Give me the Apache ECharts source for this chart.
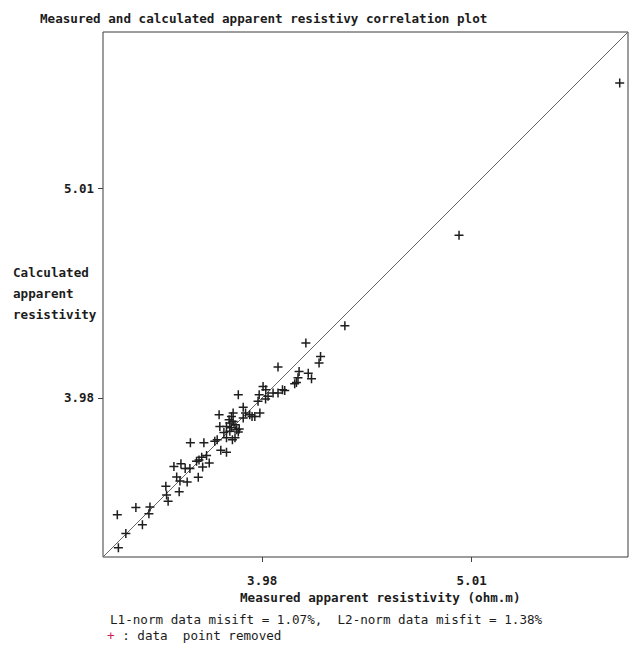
<!DOCTYPE html>
<html>
<head>
<meta charset="utf-8">
<title>Measured and calculated apparent resistivity correlation plot</title>
<script src="https://cdn.jsdelivr.net/npm/echarts@6/dist/echarts.min.js"></script>
<style>
  html, body { margin: 0; padding: 0; background: #fff; }
  #chart { width: 629px; height: 645px; }
</style>
</head>
<body>
<div id="chart"></div>
<script>
// Apparent resistivity (ohm.m): measured vs. calculated by the inversion model
const measured = [
  3.395, 3.465, 3.519, 3.515, 3.490, 3.427, 3.399, 3.581, 3.584, 3.590,
  3.634, 3.613, 3.641, 3.624, 3.637, 3.666, 3.658, 3.677, 3.711, 3.704,
  3.725, 3.745, 3.729, 3.756, 3.679, 3.734, 3.779, 3.789, 3.804, 3.828,
  3.797, 3.800, 3.828, 3.839, 3.849, 3.856, 3.864, 3.871, 3.882, 3.853,
  3.878, 3.899, 3.909, 3.937, 3.971, 3.899, 3.963, 3.968, 3.985, 3.997,
  3.996, 4.051, 4.071, 4.126, 4.146, 4.141, 4.203, 4.188, 4.360, 4.177,
  4.245, 4.238, 4.051, 4.134, 4.081, 4.007, 4.029, 3.842, 3.849, 3.856,
  3.828, 3.864, 3.714, 3.927, 3.949, 3.817, 3.878, 3.842, 4.943, 5.898
];
const calculated = [
  3.501, 3.529, 3.531, 3.505, 3.463, 3.429, 3.376, 3.612, 3.578, 3.553,
  3.591, 3.692, 3.703, 3.649, 3.633, 3.629, 3.683, 3.684, 3.648, 3.713,
  3.729, 3.737, 3.690, 3.706, 3.789, 3.789, 3.795, 3.802, 3.758, 3.750,
  3.908, 3.858, 3.858, 3.886, 3.900, 3.915, 3.865, 3.844, 3.847, 3.802,
  3.995, 3.940, 3.915, 3.900, 3.915, 3.894, 3.966, 3.995, 4.031, 4.017,
  3.976, 4.002, 4.017, 4.043, 4.098, 4.070, 4.066, 4.090, 4.309, 4.228,
  4.166, 4.137, 4.118, 4.049, 4.013, 3.988, 4.002, 3.837, 3.852, 3.879,
  3.810, 3.810, 3.718, 3.908, 3.900, 3.832, 3.834, 3.872, 4.760, 5.628
];
// Shared log-scale range of both axes, and the labelled ticks
const axisRange = [3.342, 5.952];
const tickValues = [3.981, 5.012];
const tickLabels = ['3.98', '5.01'];
const misfitL1 = '1.07%';
const misfitL2 = '1.38%';

const lg = Math.log10;
const FONT = '"DejaVu Sans Mono", monospace';
const INK = '#1c1c1c';

const points = measured.map((m, i) => [lg(m), lg(calculated[i])]);
const logTicks = tickValues.map(lg);
const labelFor = v => {
  const i = logTicks.findIndex(t => Math.abs(t - v) < 1e-6);
  return i >= 0 ? tickLabels[i] : '';
};

// Thin plus-sign marker
const PLUS = 'path://M3.75,0H5.25V3.75H9V5.25H5.25V9H3.75V5.25H0V3.75H3.75Z';

const axisCommon = {
  type: 'value',
  min: lg(axisRange[0]),
  max: lg(axisRange[1]),
  axisLine: { show: false },
  splitLine: { show: false },
  axisTick: {
    show: true, inside: false, length: 5,
    customValues: logTicks,
    lineStyle: { color: '#444', width: 1 }
  }
};

const chart = echarts.init(document.getElementById('chart'), null, { renderer: 'svg' });
chart.setOption({
  backgroundColor: '#ffffff',
  animation: false,
  title: {
    text: 'Measured and calculated apparent resistivy correlation plot',
    left: 35, top: 7,
    textStyle: { fontFamily: FONT, fontSize: 12.6, fontWeight: 'bold', color: INK }
  },
  grid: {
    left: 103, top: 32, right: 1, bottom: 88,
    show: true, borderColor: '#3a3a3a', borderWidth: 1, backgroundColor: 'transparent'
  },
  xAxis: Object.assign({}, axisCommon, {
    axisLabel: {
      customValues: logTicks, formatter: labelFor, margin: 17,
      fontFamily: FONT, fontSize: 12.5, fontWeight: 'bold', color: INK
    }
  }),
  yAxis: Object.assign({}, axisCommon, {
    axisLabel: {
      customValues: logTicks, formatter: labelFor, margin: 9,
      fontFamily: FONT, fontSize: 12.5, fontWeight: 'bold', color: INK
    }
  }),
  graphic: [
    {
      type: 'text', left: 13, top: 262,
      style: {
        text: 'Calculated\napparent\nresistivity',
        font: 'bold 12.6px ' + FONT, lineHeight: 21, fill: INK
      }
    },
    {
      type: 'text', left: 240, top: 591,
      style: { text: 'Measured apparent resistivity (ohm.m)', font: 'bold 12.6px ' + FONT, fill: INK }
    },
    {
      type: 'text', left: 110, top: 613,
      style: {
        text: 'L1-norm data misift = ' + misfitL1 + ',  L2-norm data misfit = ' + misfitL2,
        font: '12.6px ' + FONT, fill: INK
      }
    },
    {
      type: 'text', left: 107, top: 629,
      style: {
        text: '{r|+} : data  point removed',
        font: '12.6px ' + FONT, fill: INK,
        rich: { r: { fill: '#cc2255', font: '12.6px ' + FONT } }
      }
    }
  ],
  series: [
    {
      // 1:1 reference line across the full axis range
      type: 'line',
      data: [[lg(axisRange[0]), lg(axisRange[0])], [lg(axisRange[1]), lg(axisRange[1])]],
      symbol: 'none',
      lineStyle: { color: '#666', width: 1 },
      silent: true,
      z: 1
    },
    {
      type: 'scatter',
      data: points,
      symbol: PLUS,
      symbolSize: 9,
      itemStyle: { color: '#1e1e1e', opacity: 1 },
      z: 2
    }
  ]
});
</script>
</body>
</html>
